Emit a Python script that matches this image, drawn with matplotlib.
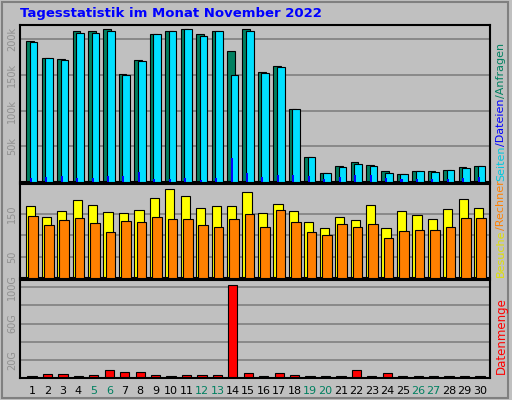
import matplotlib
matplotlib.use("Agg")
import matplotlib.pyplot as plt
import numpy as np

days = list(range(1, 31))
weekend = [5, 6, 12, 13, 19, 20, 26, 27]
hits = [198,174,173,211,211,215,151,171,207,211,214,207,212,183,215,154,163,102,35,13,23,28,24,16,11,16,16,17,21,23]
files = [196,174,171,209,209,211,150,170,207,211,214,205,211,150,212,153,161,102,35,13,21,25,23,13,11,16,14,17,20,23]
pages = [6,7,8.5,6,6,8.5,8.5,14,4,4,6,3,6,33,13,7,10,10,8.5,4,7,10,10,5,4,4,4,4,5,7]
visits = [169,143,157,183,171,155,152,160,188,210,193,164,169,169,202,152,174,157,131,117,143,136,171,117,157,148,138,162,186,164]
sites = [145,124,136,140,129,107,133,131,143,138,138,124,121,138,150,121,160,131,107,102,126,121,126,93,110,112,114,119,140,140]
volume = [2.3,4.5,4.5,2.3,3.4,9,6.8,6.8,3.4,2.3,3.4,3.4,3.4,102.6,5.7,2.3,5.7,3.4,2.3,2.3,2.3,9,2.3,5.7,2.3,2.3,2.3,2.3,2.3,2.3]

W, H = 512, 400
BG = "#c0c0c0"
fig = plt.figure(figsize=(W/100, H/100), dpi=100, facecolor=BG)
x = np.array(days, dtype=float)

def ax_px(l, t, r, b):
    return fig.add_axes([l/W, 1-b/H, (r-l)/W, (b-t)/H])

def style(ax, ymax, ticks, labels):
    ax.set_facecolor(BG)
    ax.set_xlim(0.22, 30.65)
    ax.set_ylim(0, ymax)
    ax.set_yticks(ticks)
    ax.set_yticklabels(labels, rotation=90, va="center", color="#909090", fontsize=7)
    ax.tick_params(length=0, pad=2)
    ax.grid(axis="y", color="#808080", lw=1.2)
    ax.set_axisbelow(True)
    for s in ax.spines.values():
        s.set_color("black"); s.set_linewidth(1.5)
    ax.set_xticks([])

a1 = ax_px(20, 25, 490, 182)
style(a1, 220, [50,100,150,200], ["50k","100k","150k","200k"])
a1.bar(x-0.13, hits, width=0.49, color="#008060", edgecolor="black", lw=0.8, zorder=2)
a1.bar(x+0.1, files, width=0.5, color="#00e0ff", edgecolor="black", lw=0.8, zorder=3)
a1.bar(x-0.08, pages, width=0.13, color="#0000ff", lw=0, zorder=4)

a2 = ax_px(20, 184, 490, 278)
style(a2, 221, [50,100,150], ["50","","150"])
a2.bar(x-0.08, visits, width=0.6, color="#ffff00", edgecolor="black", lw=0.8, zorder=2)
a2.bar(x+0.08, sites, width=0.62, color="#ff8000", edgecolor="black", lw=0.8, zorder=3)

a3 = ax_px(20, 280, 490, 378)
style(a3, 108, [20,40,60,80,100], ["20G","","60G","","100G"])
a3.bar(x, volume, width=0.6, color="#ff0000", edgecolor="black", lw=0.8, zorder=2)
a3.set_xticks(days)
a3.set_xticklabels([str(d) for d in days], fontsize=8)
for lab, d in zip(a3.get_xticklabels(), days):
    lab.set_color("#008060" if d in weekend else "black")
a3.tick_params(axis="x", pad=6)

fig.text(20/W, 1-14/H, "Tagesstatistik im Monat November 2022", color="#0000ff",
         fontsize=9.5, fontweight="bold", va="center", ha="left")

fig.patches.append(plt.Rectangle((0.003, 0.005), 0.99, 0.99, transform=fig.transFigure,
                                  fill=False, edgecolor="#808080", lw=1.5))

fig.canvas.draw()
r = fig.canvas.get_renderer()
def stacked(parts, xpx, ybot, fs):
    y = ybot
    for txt, col in parts:
        t = fig.text(xpx/W, 1-y/H, txt, color=col, rotation=90, fontsize=fs,
                     ha="center", va="bottom")
        ext = t.get_window_extent(r)
        y -= ext.height
stacked([("Seiten", "#00c8e0"), ("/Dateien", "#0000ff"), ("/Anfragen", "#008060")], 501, 181, 8)
stacked([("Besuche", "#e0e000"), ("/Rechner", "#ff8000")], 501, 277, 8)
stacked([("Datenmenge", "#ff0000")], 501, 374, 8.5)

fig.savefig("out.png", dpi=100, facecolor=BG)
